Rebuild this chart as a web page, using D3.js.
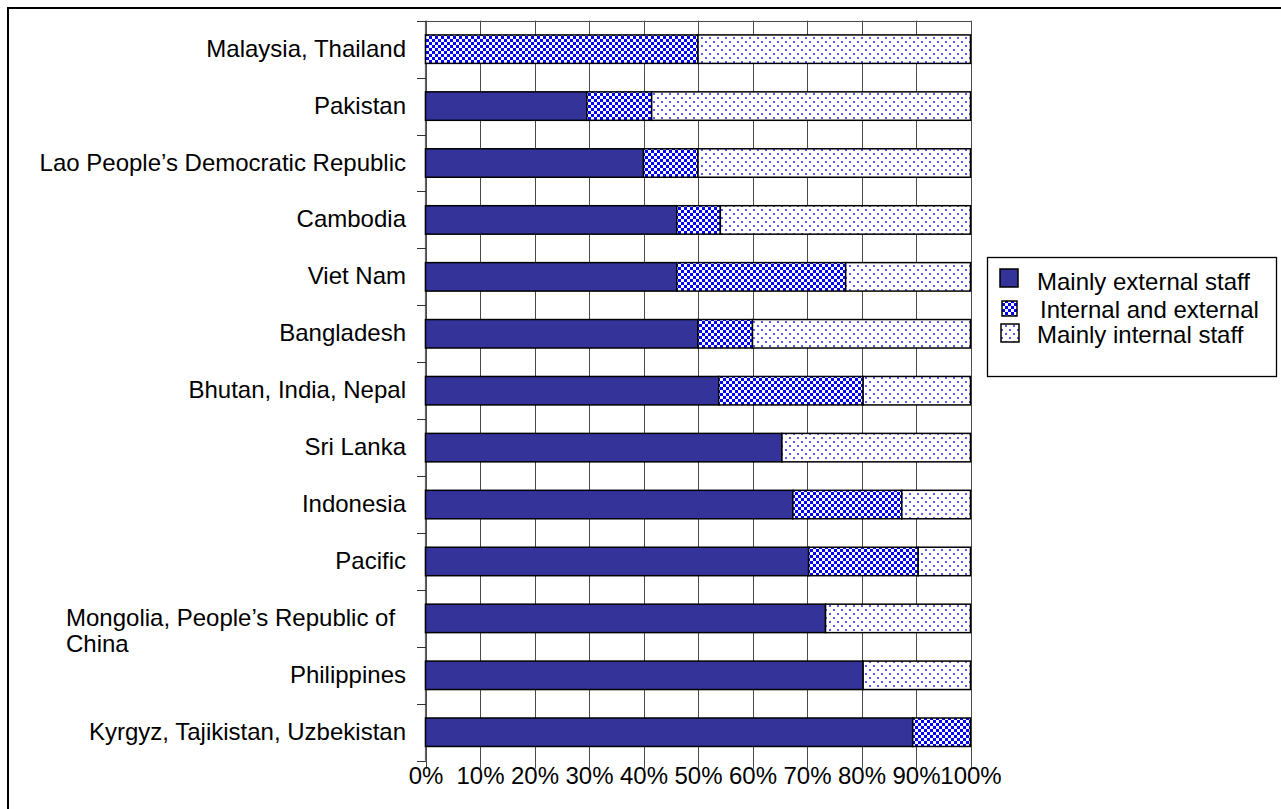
<!DOCTYPE html>
<html>
<head>
<meta charset="utf-8">
<script src="https://cdn.jsdelivr.net/npm/d3@7"></script>
<style>
  html, body { margin: 0; padding: 0; background: #fff; }
  svg { display: block; font-family: "Liberation Sans", Arial, Helvetica, sans-serif; }
</style>
</head>
<body>
<svg id="chart" width="1281" height="809"></svg>
<script>
const categories = [
  "Malaysia, Thailand",
  "Pakistan",
  "Lao People\u2019s Democratic Republic",
  "Cambodia",
  "Viet Nam",
  "Bangladesh",
  "Bhutan, India, Nepal",
  "Sri Lanka",
  "Indonesia",
  "Pacific",
  "Mongolia, People\u2019s Republic of China",
  "Philippines",
  "Kyrgyz, Tajikistan, Uzbekistan"
];
const mainlyExternal   = [0, 29.6, 40, 46.1, 46.1, 50, 53.8, 65.4, 67.4, 70.3, 73.4, 80.3, 89.4];
const internalExternal = [50, 11.9, 10, 8, 31, 10, 26.5, 0, 20, 20.1, 0, 0, 10.6];
const mainlyInternal   = [50, 58.5, 50, 45.9, 22.9, 40, 19.7, 34.6, 12.6, 9.6, 26.6, 19.7, 0];
const seriesNames = ["Mainly external staff", "Internal and external", "Mainly internal staff"];
const tickValues = [0, 10, 20, 30, 40, 50, 60, 70, 80, 90, 100];

(function () {
const svg = d3.select("#chart");
const FONT = 24;

// patterns
const defs = svg.append("defs");
const chk = defs.append("pattern").attr("id", "checker")
  .attr("patternUnits", "userSpaceOnUse").attr("width", 6).attr("height", 6);
chk.append("rect").attr("width", 6).attr("height", 6).attr("fill", "#0000ff");
chk.append("rect").attr("x", 0).attr("y", 0).attr("width", 3).attr("height", 3).attr("fill", "#ffffff");
chk.append("rect").attr("x", 3).attr("y", 3).attr("width", 3).attr("height", 3).attr("fill", "#ffffff");

const dots = defs.append("pattern").attr("id", "dots")
  .attr("patternUnits", "userSpaceOnUse").attr("width", 8).attr("height", 8);
dots.append("rect").attr("width", 8).attr("height", 8).attr("fill", "#ffffff");
dots.append("rect").attr("x", 1).attr("y", 1).attr("width", 2).attr("height", 2).attr("fill", "#5a5aff");
dots.append("rect").attr("x", 5).attr("y", 5).attr("width", 2).attr("height", 2).attr("fill", "#5a5aff");

const fills = ["#333399", "url(#checker)", "url(#dots)"];

// outer frame (top and left edges visible)
svg.append("line").attr("x1", 8).attr("x2", 1281).attr("y1", 8).attr("y2", 8)
  .attr("stroke", "#000").attr("stroke-width", 2);
svg.append("line").attr("x1", 8).attr("x2", 8).attr("y1", 7).attr("y2", 809)
  .attr("stroke", "#000").attr("stroke-width", 2);

const x = d3.scaleLinear().domain([0, 100]).range([425.5, 970.5]);
const y = d3.scaleBand().domain(categories).range([20.7, 760.7]).paddingInner(0.5).paddingOuter(0.25);
const plotTop = y.range()[0], plotBottom = y.range()[1];

// vertical gridlines
svg.append("g").selectAll("line").data(tickValues).join("line")
  .attr("x1", d => Math.round(x(d)) + 0.5).attr("x2", d => Math.round(x(d)) + 0.5)
  .attr("y1", plotTop).attr("y2", plotBottom + 8)
  .attr("stroke", "#4a4a4a").attr("stroke-width", 1);

// top border of plot
svg.append("line").attr("x1", 417).attr("x2", Math.round(x(100)) + 0.5)
  .attr("y1", Math.round(plotTop) + 0.5).attr("y2", Math.round(plotTop) + 0.5)
  .attr("stroke", "#4a4a4a").attr("stroke-width", 1);

// y axis line + boundary ticks
const boundaries = categories.map(c => y(c) - y.step() * y.paddingInner() / 2).concat([plotBottom]);
svg.append("line").attr("x1", 425.5).attr("x2", 425.5).attr("y1", plotTop).attr("y2", plotBottom)
  .attr("stroke", "#666").attr("stroke-width", 1.2);
svg.append("g").selectAll("line").data(boundaries).join("line")
  .attr("x1", 417).attr("x2", 426)
  .attr("y1", d => Math.round(d) + 0.5).attr("y2", d => Math.round(d) + 0.5)
  .attr("stroke", "#333").attr("stroke-width", 1);

// stacked bars
const rows = categories.map((c, i) => ({
  cat: c, ext: mainlyExternal[i], mix: internalExternal[i], int: mainlyInternal[i]
}));
const stack = d3.stack().keys(["ext", "mix", "int"])(rows);
const gBars = svg.append("g");
stack.forEach((layer, li) => {
  gBars.append("g").selectAll("rect")
    .data(layer.filter(d => d[1] - d[0] > 0))
    .join("rect")
    .attr("x", d => x(d[0]))
    .attr("y", d => y(d.data.cat))
    .attr("width", d => x(d[1]) - x(d[0]))
    .attr("height", y.bandwidth())
    .attr("fill", fills[li])
    .attr("stroke", "#000")
    .attr("stroke-width", 1.5);
});

// category labels
const gLab = svg.append("g").attr("font-size", FONT).attr("fill", "#000");
categories.forEach(c => {
  const cy = y(c) + y.bandwidth() / 2;
  if (c.startsWith("Mongolia")) {
    const t = gLab.append("text").attr("x", 66).attr("y", cy + 7.5).attr("text-anchor", "start");
    t.append("tspan").attr("x", 66).text("Mongolia, People\u2019s Republic of");
    t.append("tspan").attr("x", 66).attr("dy", 26).text("China");
  } else {
    gLab.append("text").attr("x", 406).attr("y", cy + 7.5).attr("text-anchor", "end").text(c);
  }
});

// x axis labels
const xAxis = d3.axisBottom(x).tickValues(tickValues).tickFormat(d => d + "%").tickSize(0);
const gx = svg.append("g").attr("transform", `translate(0,${plotBottom})`).call(xAxis);
gx.select(".domain").remove();
gx.selectAll("text").attr("font-size", FONT).attr("font-family", "inherit")
  .attr("fill", "#000").attr("y", 6);

// legend
const lg = svg.append("g");
lg.append("rect").attr("x", 987.5).attr("y", 257.5).attr("width", 289).attr("height", 119)
  .attr("fill", "#fff").attr("stroke", "#000").attr("stroke-width", 1.3);
const legendItems = [
  { name: seriesNames[0], fill: fills[0], sx: 1000, sy: 269, s: 18, tx: 1037, ty: 290 },
  { name: seriesNames[1], fill: fills[1], sx: 1002, sy: 301, s: 15, tx: 1040, ty: 318 },
  { name: seriesNames[2], fill: fills[2], sx: 1001, sy: 324, s: 18, tx: 1037, ty: 343 }
];
legendItems.forEach(d => {
  lg.append("rect").attr("x", d.sx).attr("y", d.sy).attr("width", d.s).attr("height", d.s)
    .attr("fill", d.fill).attr("stroke", "#000").attr("stroke-width", 1.5);
  lg.append("text").attr("x", d.tx).attr("y", d.ty).attr("font-size", FONT).text(d.name);
});
})();
</script>
</body>
</html>
